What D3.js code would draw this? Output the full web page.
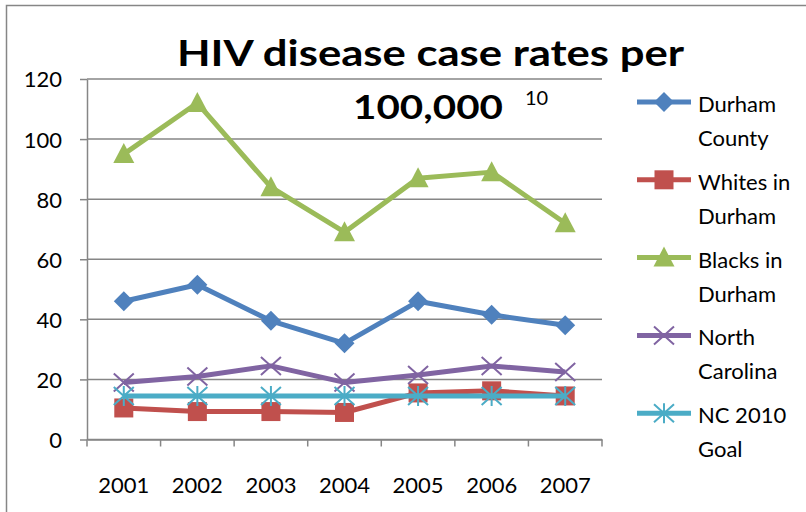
<!DOCTYPE html>
<html>
<head>
<meta charset="utf-8">
<script src="https://cdn.jsdelivr.net/npm/d3@7"></script>
<style>
  html, body { margin: 0; padding: 0; background: #fff; }
  svg { display: block; font-family: Lato, "Open Sans", sans-serif; }
</style>
</head>
<body>
<svg id="chart" width="806" height="512"></svg>
<script>
// Years on the category axis
const years = ["2001", "2002", "2003", "2004", "2005", "2006", "2007"];

// HIV disease case rates per 100,000
const durhamCounty = [46, 51.5, 39.5, 32, 46, 41.5, 38];
const whitesInDurham = [10.5, 9.3, 9.3, 9, 15.5, 16.2, 14.5];
const blacksInDurham = [95, 112, 84, 69, 87, 89, 72];
const northCarolina = [19, 21, 24.5, 19, 21.5, 24.5, 22.5];
const nc2010Goal = [14.5, 14.5, 14.5, 14.5, 14.5, 14.5, 14.5];

const yTicks = [0, 20, 40, 60, 80, 100, 120];

const seriesNames = [
  ["Durham", "County"],
  ["Whites in", "Durham"],
  ["Blacks in", "Durham"],
  ["North", "Carolina"],
  ["NC 2010", "Goal"]
];
const seriesValues = [durhamCounty, whitesInDurham, blacksInDurham, northCarolina, nc2010Goal];
const seriesColors = ["#4F81BD", "#C0504D", "#9BBB59", "#8064A2", "#4BACC6"];
const seriesMarkers = ["diamond", "square", "triangle", "cross", "star"];

const series = seriesValues.map((vals, i) => ({
  name: seriesNames[i],
  values: vals,
  color: seriesColors[i],
  marker: seriesMarkers[i]
}));

const svg = d3.select("#chart");
const plot = { left: 87, right: 602, top: 79, bottom: 439.5 };
const axisColor = "#868686";

// Outer chart frame
svg.append("rect")
  .attr("x", 6.5).attr("y", 5.5)
  .attr("width", 830).attr("height", 540)
  .attr("fill", "none").attr("stroke", axisColor).attr("stroke-width", 1.5);

const x = d3.scaleBand().domain(years).range([plot.left, plot.right]).padding(0);
const y = d3.scaleLinear().domain([0, 120]).range([plot.bottom, plot.top]);
const cx = d => x(d) + x.bandwidth() / 2;

// Horizontal gridlines
svg.append("g")
  .selectAll("line")
  .data(yTicks)
  .join("line")
  .attr("x1", plot.left).attr("x2", plot.right)
  .attr("y1", d => y(d)).attr("y2", d => y(d))
  .attr("stroke", axisColor).attr("stroke-width", 1.5);

// Value axis
const yAxis = svg.append("g")
  .attr("transform", `translate(${plot.left},0)`)
  .call(d3.axisLeft(y).tickValues(yTicks).tickSize(7).tickSizeOuter(0).tickPadding(18));
yAxis.select(".domain").attr("stroke", axisColor).attr("stroke-width", 1.5);
yAxis.selectAll(".tick line").attr("stroke", axisColor).attr("stroke-width", 1.5);
yAxis.selectAll(".tick text")
  .attr("fill", "#000").attr("font-size", 22).attr("font-family", "Lato")
  .attr("dy", "0.36em");

// Category axis: labels centred in each band, tick marks on band edges
const xAxis = svg.append("g")
  .attr("transform", `translate(0,${plot.bottom})`)
  .call(d3.axisBottom(x).tickSize(0).tickPadding(38));
xAxis.select(".domain").attr("stroke", axisColor).attr("stroke-width", 1.5);
xAxis.selectAll(".tick text")
  .attr("fill", "#000").attr("font-size", 22).attr("font-family", "Lato");
const edges = years.map(d => x(d)).concat([plot.right]);
xAxis.append("g")
  .selectAll("line")
  .data(edges)
  .join("line")
  .attr("x1", d => d).attr("x2", d => d)
  .attr("y1", 0).attr("y2", 7)
  .attr("stroke", axisColor).attr("stroke-width", 1.5);

// Marker shapes
function drawMarker(sel, type, color) {
  if (type === "diamond") {
    sel.append("path").attr("d", "M0,-10L10,0L0,10L-10,0Z").attr("fill", color);
  } else if (type === "square") {
    sel.append("rect").attr("x", -9.5).attr("y", -9.5).attr("width", 19).attr("height", 19).attr("fill", color);
  } else if (type === "triangle") {
    sel.append("path").attr("d", "M0,-11L10.5,9L-10.5,9Z").attr("fill", color);
  } else if (type === "cross") {
    sel.append("path").attr("d", "M-10,-9L10,9M-10,9L10,-9")
      .attr("stroke", color).attr("stroke-width", 2).attr("fill", "none");
  } else if (type === "star") {
    sel.append("path").attr("d", "M-10,-9L10,9M-10,9L10,-9M0,-10L0,10")
      .attr("stroke", color).attr("stroke-width", 2).attr("fill", "none");
  }
}

const line = d3.line().x((d, i) => cx(years[i])).y(d => y(d));

const seriesG = svg.append("g")
  .selectAll("g")
  .data(series)
  .join("g");

seriesG.append("path")
  .attr("d", d => line(d.values))
  .attr("fill", "none")
  .attr("stroke", d => d.color)
  .attr("stroke-width", 5)
  .attr("stroke-linejoin", "round");

seriesG.each(function(s) {
  d3.select(this).selectAll("g.mk")
    .data(s.values)
    .join("g")
    .attr("class", "mk")
    .attr("transform", (d, i) => `translate(${cx(years[i])},${y(d)})`)
    .each(function() { drawMarker(d3.select(this), s.marker, s.color); });
});

// Title
svg.append("text")
  .attr("x", 177).attr("y", 66)
  .attr("font-size", 37).attr("font-weight", 700).attr("font-family", "Lato")
  .attr("textLength", 507).attr("lengthAdjust", "spacingAndGlyphs")
  .text("HIV disease case rates per");
svg.append("text")
  .attr("x", 353).attr("y", 118.5)
  .attr("font-size", 33).attr("font-weight", 700).attr("font-family", "Lato")
  .attr("textLength", 150).attr("lengthAdjust", "spacingAndGlyphs")
  .text("100,000");
svg.append("text")
  .attr("x", 525).attr("y", 105)
  .attr("font-size", 20).attr("font-family", "Lato")
  .text("10");

// Legend
const legend = svg.append("g")
  .selectAll("g")
  .data(series)
  .join("g")
  .attr("transform", (d, i) => `translate(637,${102 + i * 77.8})`);
legend.append("line")
  .attr("x1", 0).attr("x2", 54).attr("y1", 0).attr("y2", 0)
  .attr("stroke", d => d.color).attr("stroke-width", 5);
legend.each(function(s) {
  const m = d3.select(this).append("g").attr("transform", "translate(27,0)");
  drawMarker(m, s.marker, s.color);
});
legend.append("text")
  .attr("x", 61).attr("y", 10)
  .attr("font-size", 22).attr("font-family", "Lato")
  .selectAll("tspan")
  .data(d => d.name)
  .join("tspan")
  .attr("x", 61)
  .attr("dy", (d, i) => i === 0 ? 0 : 34)
  .text(d => d);
</script>
</body>
</html>
